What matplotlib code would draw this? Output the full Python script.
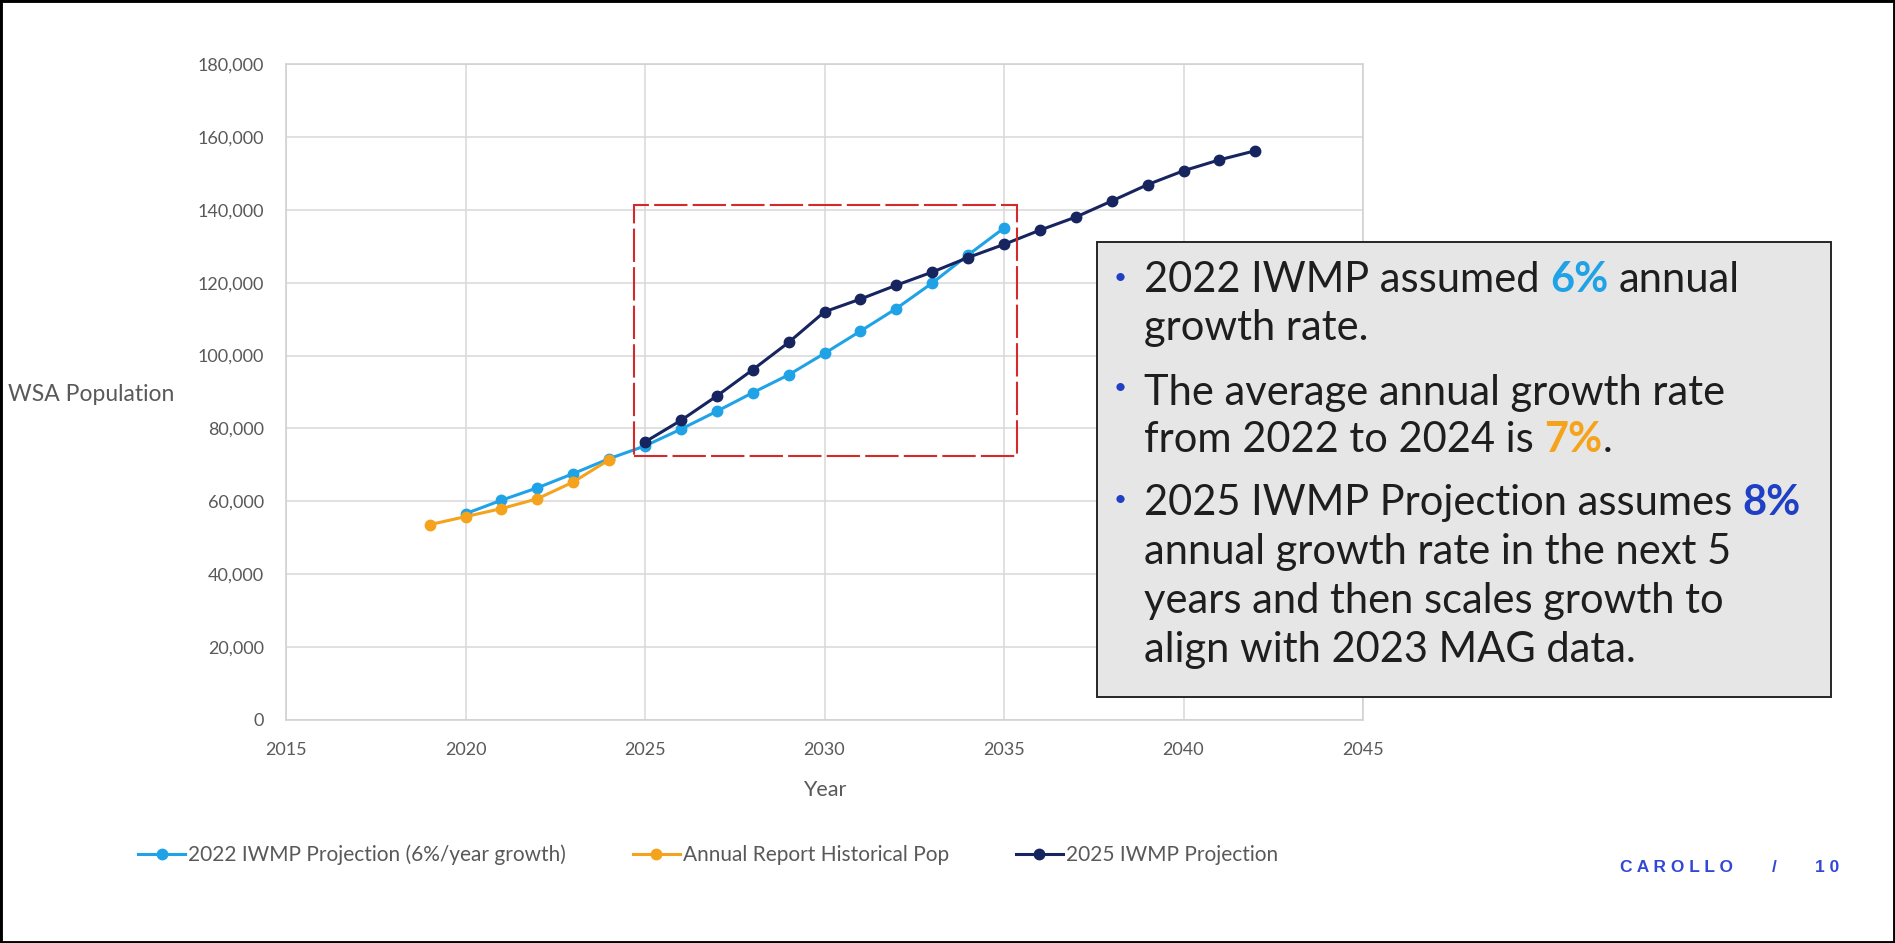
import matplotlib.pyplot as plt
from matplotlib.patches import Rectangle
from matplotlib.ticker import FuncFormatter

plt.rcParams['font.family'] = ['Lato', 'DejaVu Sans']

# population series
years_2022 = [2020, 2021, 2022, 2023, 2024, 2025, 2026, 2027, 2028, 2029,
              2030, 2031, 2032, 2033, 2034, 2035]
pop_2022 = [56600, 60300, 63700, 67600, 71700, 75200, 79800, 84700, 89800,
            94700, 100600, 106700, 112900, 119900, 127600, 135000]

years_hist = [2019, 2020, 2021, 2022, 2023, 2024]
pop_hist = [53600, 55800, 58000, 60700, 65300, 71400]

years_2025 = [2025, 2026, 2027, 2028, 2029, 2030, 2031, 2032, 2033, 2034,
              2035, 2036, 2037, 2038, 2039, 2040, 2041, 2042]
pop_2025 = [76300, 82200, 88900, 96100, 103600, 112000, 115500, 119300,
            122900, 126900, 130500, 134400, 138000, 142400, 146900, 150700,
            153700, 156200]

labels = ['2022 IWMP Projection (6%/year growth)', 'Annual Report Historical Pop',
          '2025 IWMP Projection']
colors = ['#1fa3e6', '#f5a31c', '#16245f']

# highlighted window
box_x = [2024.68, 2035.37]
box_y = [72500, 141200]

W, H = 1895, 943
fig = plt.figure(figsize=(W / 100, H / 100), dpi=100)
ax = fig.add_axes([286 / W, 1 - 720 / H, 1077 / W, 656 / H])

ax.plot(years_2022, pop_2022, color=colors[0], lw=2.2, marker='o', ms=7.5, label=labels[0])
ax.plot(years_hist, pop_hist, color=colors[1], lw=2.2, marker='o', ms=7.5, label=labels[1])
ax.plot(years_2025, pop_2025, color=colors[2], lw=2.2, marker='o', ms=7.5, label=labels[2])

ax.add_patch(Rectangle((box_x[0], box_y[0]), box_x[1] - box_x[0], box_y[1] - box_y[0],
                       fill=False, ec='#d42a2a', lw=1.5, ls=(0, (16, 2.5)),
                       zorder=5, clip_on=False))

ax.set_xlim(2015, 2045)
ax.set_ylim(0, 180000)
ax.set_xticks(range(2015, 2046, 5))
ax.set_yticks(range(0, 180001, 20000))
ax.yaxis.set_major_formatter(FuncFormatter(lambda v, p: f'{int(v):,}'))
ax.grid(True, color='#d9d9d9', lw=1.1)
ax.set_axisbelow(True)
for s in ax.spines.values():
    s.set_color('#d0d0d0')
    s.set_linewidth(1.1)
ax.tick_params(length=0, pad=16, labelsize=13, labelcolor='#595959')

fig.text(8 / W, 1 - 395 / H, 'WSA Population', fontsize=16.5, color='#595959',
         ha='left', va='center')
fig.text(825 / W, 1 - 790 / H, 'Year', fontsize=15.5, color='#595959',
         ha='center', va='center')

h, l = ax.get_legend_handles_labels()
fig.legend(h, l, loc='center left', bbox_to_anchor=(138 / W, 1 - 855 / H), ncol=3,
           frameon=False, fontsize=15, labelcolor='#595959', handlelength=2.26,
           handletextpad=0.15, columnspacing=3.2, borderpad=0, borderaxespad=0)

# callout box with bullet points
fig.patches.append(Rectangle((1097 / W, 1 - 697 / H), (1831 - 1097) / W, (697 - 242) / H,
                             transform=fig.transFigure, fc='#e6e6e6', ec='#262626',
                             lw=1.4, zorder=1))

r = fig.canvas.get_renderer()
txt_kw = dict(fontsize=30)


def width_of(s, bold):
    t = fig.text(0, 0, s, fontweight='bold' if bold else 'normal', **txt_kw)
    w = t.get_window_extent(r).width
    t.remove()
    return w


space_w = width_of('n n', False) - width_of('nn', False)


def draw_runs(x, y, runs):
    for s, c, bold in runs:
        x += space_w * (len(s) - len(s.lstrip(' ')))
        core = s.strip(' ')
        fig.text(x / W, 1 - y / H, core, color=c, fontweight='bold' if bold else 'normal',
                 va='baseline', ha='left', zorder=3, **txt_kw)
        x += width_of(core, bold)
        x += space_w * (len(s) - len(s.rstrip(' ')))


dark = '#1e1e1e'
lines = [
    (292, [('2022 IWMP assumed ', dark, False), ('6%', '#1fa3e6', True), (' annual', dark, False)]),
    (340, [('growth rate.', dark, False)]),
    (405, [('The average annual growth rate', dark, False)]),
    (452, [('from 2022 to 2024 is ', dark, False), ('7%', '#f5a31c', True), ('.', dark, False)]),
    (515, [('2025 IWMP Projection assumes ', dark, False), ('8%', '#1f3fc4', True)]),
    (564, [('annual growth rate in the next 5', dark, False)]),
    (613, [('years and then scales growth to', dark, False)]),
    (662, [('align with 2023 MAG data.', dark, False)]),
]
for y, runs in lines:
    draw_runs(1144, y, runs)

for y in [278, 388, 500]:
    fig.text(1120 / W, 1 - y / H, '•', color='#1f3fc4', fontsize=16,
             ha='center', va='center', zorder=3)

# footer
foot_kw = dict(fontsize=12.5, color='#3347d6', fontweight='bold',
               family='Liberation Sans', va='center')
fig.text(1620 / W, 1 - 868 / H, 'C A R O L L O', ha='left', **foot_kw)
fig.text(1774 / W, 1 - 868 / H, '/', ha='center', **foot_kw)
fig.text(1815 / W, 1 - 868 / H, '1 0', ha='left', **foot_kw)

# outer frame
fig.patches.append(Rectangle((0, 0), 1, 1, transform=fig.transFigure, fill=False,
                             ec='black', lw=3.5, zorder=10))

fig.savefig('out.png', dpi=100)
